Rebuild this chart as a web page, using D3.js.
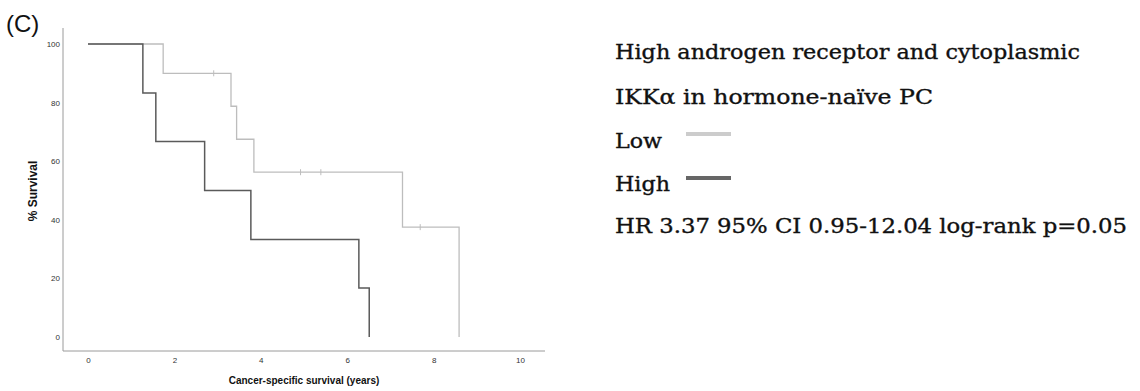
<!DOCTYPE html>
<html><head><meta charset="utf-8">
<script src="https://cdn.jsdelivr.net/npm/d3@7"></script>
<style>body{margin:0;background:#fff}svg{display:block}</style>
</head><body>
<svg id="c" width="1140" height="391"></svg>
<script>
// Kaplan-Meier step data (time in years, % survival)
const lowTimes    = [0, 1.74, 3.31, 3.44, 3.84, 7.28, 8.59];
const lowSurv     = [100, 90, 78.75, 67.5, 56.25, 37.5, 0];
const lowCensorT  = [2.91, 4.92, 5.39, 7.69];
const highTimes   = [0, 1.27, 1.57, 2.70, 3.77, 6.27, 6.51];
const highSurv    = [100, 83.3, 66.7, 50, 33.3, 16.7, 0];
const highCensorT = [];
const xTicks = [0, 2, 4, 6, 8, 10];
const yTicks = [0, 20, 40, 60, 80, 100];
const legendLabels = ["Low", "High"];
const titleLines = ["High androgen receptor and cytoplasmic", "IKK\u03B1 in hormone-na\u00EFve PC"];
const statText = "HR 3.37 95% CI 0.95-12.04 log-rank p=0.05";

const svg = d3.select("#c");
const x = d3.scaleLinear().domain([0, 10]).range([88, 520]);
const y = d3.scaleLinear().domain([0, 100]).range([337, 44]);
const axisColor = "#9a9a9a";

// panel label
svg.append("text").attr("x", 6).attr("y", 32).attr("font-family", "Liberation Sans, Arial, sans-serif")
  .attr("font-size", 24).attr("fill", "#111").text("(C)");

// axes lines
svg.append("line").attr("x1", 63).attr("x2", 63).attr("y1", 28).attr("y2", 351).attr("stroke", axisColor).attr("stroke-width", 1);
svg.append("line").attr("x1", 63).attr("x2", 545).attr("y1", 351).attr("y2", 351).attr("stroke", axisColor).attr("stroke-width", 1);

// tick labels via d3 axes (no tick lines / domain)
const yAx = svg.append("g").attr("transform", "translate(63,0)")
  .call(d3.axisLeft(y).tickValues(yTicks).tickSize(0).tickPadding(3));
const xAx = svg.append("g").attr("transform", "translate(0,351)")
  .call(d3.axisBottom(x).tickValues(xTicks).tickSize(0).tickPadding(6));
[yAx, xAx].forEach(g => {
  g.select(".domain").remove();
  g.selectAll("text").attr("font-family", "Liberation Sans Narrow, Liberation Sans, Arial, sans-serif")
    .attr("font-size", 8).attr("fill", "#333");
});

// axis titles
svg.append("text").attr("transform", "translate(37,191) rotate(-90)").attr("text-anchor", "middle")
  .attr("font-family", "Liberation Sans, Arial, sans-serif").attr("font-weight", "bold")
  .attr("font-size", 12).attr("fill", "#111").text("% Survival");
svg.append("text").attr("x", 304).attr("y", 384).attr("text-anchor", "middle")
  .attr("font-family", "Liberation Sans, Arial, sans-serif").attr("font-weight", "bold")
  .attr("font-size", 10).attr("fill", "#111").text("Cancer-specific survival (years)");

// KM curves
function stepPoints(times, surv) {
  const pts = [];
  for (let i = 0; i < times.length; i++) {
    if (i > 0) pts.push([times[i], surv[i - 1]]);
    pts.push([times[i], surv[i]]);
  }
  return pts;
}
function survAt(times, surv, t) {
  let s = surv[0];
  for (let i = 0; i < times.length; i++) if (times[i] <= t) s = surv[i];
  return s;
}
const line = d3.line().x(d => x(d[0])).y(d => y(d[1]));
const series = [
  {times: lowTimes, surv: lowSurv, cens: lowCensorT, color: "#bdbdbd", w: 1.3},
  {times: highTimes, surv: highSurv, cens: highCensorT, color: "#5a5a5a", w: 1.5}
];
series.forEach(s => {
  svg.append("path").attr("d", line(stepPoints(s.times, s.surv)))
    .attr("fill", "none").attr("stroke", s.color).attr("stroke-width", s.w);
  svg.selectAll(null).data(s.cens).enter().append("line")
    .attr("x1", d => x(d)).attr("x2", d => x(d))
    .attr("y1", d => y(survAt(s.times, s.surv, d)) - 3)
    .attr("y2", d => y(survAt(s.times, s.surv, d)) + 3)
    .attr("stroke", s.color).attr("stroke-width", 1);
});

// right-hand text and legend
const serif = "DejaVu Serif, serif";
function fitText(txt, xx, yy, width) {
  const t = svg.append("text").attr("x", xx).attr("y", yy).attr("font-family", serif)
    .attr("font-size", 19.5).attr("fill", "#111")
    .attr("stroke", "#111").attr("stroke-width", 0.35).text(txt);
  if (width) t.attr("textLength", width).attr("lengthAdjust", "spacingAndGlyphs");
  return t;
}
fitText(titleLines[0], 615, 59, 465);
fitText(titleLines[1], 615, 104, 318);
fitText(legendLabels[0], 615, 148, 47);
fitText(legendLabels[1], 615, 191, 55);
fitText(statText, 615, 233, 512);
const legColors = ["#cccccc", "#666666"];
[134, 178].forEach((ly, i) => {
  svg.append("line").attr("x1", 686).attr("x2", 731).attr("y1", ly).attr("y2", ly)
    .attr("stroke", legColors[i]).attr("stroke-width", 4);
});
</script>
</body></html>
